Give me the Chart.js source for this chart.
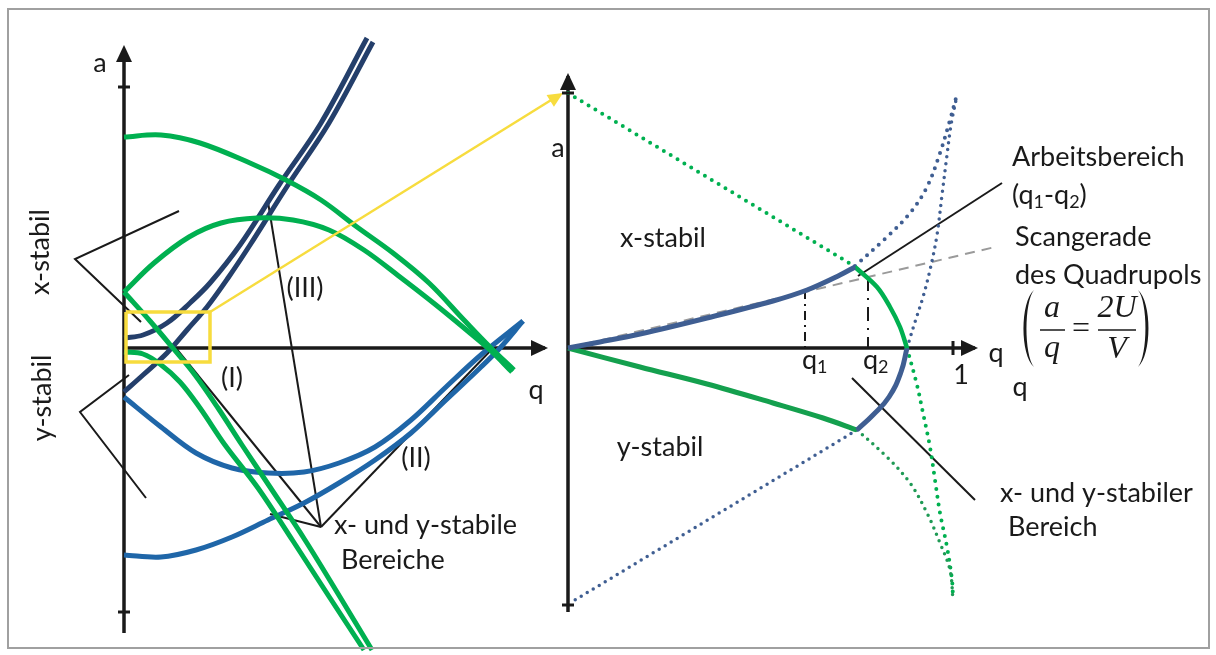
<!DOCTYPE html>
<html>
<head>
<meta charset="utf-8">
<script src="https://cdn.jsdelivr.net/npm/chart.js@4"></script>
<style>
  html, body { margin: 0; padding: 0; background: #fff; }
  canvas { display: block; }
</style>
</head>
<body>
<canvas id="stability" width="1216" height="655"></canvas>
<script>
// Mathieu stability diagram of the quadrupole, figure coordinates (x right, y down)

// --- left overview: stability boundaries in the a-q plane
const greenTop   = [[124,137],[161,135],[200,143],[250,163],[286,180],[321,200],[357,227],[393,253],[429,283],[464,320],[490,347],[514,370]];
const greenHump  = [[124,292],[154,263],[189,237],[221,223],[257,218],[293,220],[329,230],[364,250],[400,277],[436,305],[470,333],[490,350],[512,372]];
const greenFallA = [[124,292],[150,321],[172,347],[195,375],[218,408],[242,445],[270,487],[305,540],[340,597],[372,650]];
const greenFallB = [[124,352],[143,354],[160,364],[180,382],[200,408],[225,445],[258,488],[293,541],[330,598],[364,650]];
const navyRiseA  = [[124,338],[143,335],[167,323],[190,303],[210,283],[240,245],[279,185],[321,123],[367,38]];
const navyRiseB  = [[124,392],[143,375],[167,353],[187,330],[207,307],[228,278],[250,245],[288,185],[329,123],[373,42]];
const blueBowlA  = [[124,397],[161,427],[196,453],[232,468],[268,473],[304,472],[339,463],[375,447],[411,420],[446,387],[482,354],[523,321]];
const blueBowlB  = [[124,555],[161,557],[196,550],[232,537],[268,520],[304,503],[339,483],[375,460],[411,433],[446,400],[480,368],[500,348],[523,321]];

const leftAxisA = [[124,633],[124,50]];
const leftAxisQ = [[124,348],[545,348]];
const xBracket  = [[179,211],[75,259],[141,322]];
const yBracket  = [[129,375],[80,412],[146,498]];
const leadIII   = [[268,202],[321,527]];
const leadI     = [[175,347],[321,527]];
const leadII    = [[493,348],[321,527]];
const leadShort = [[270,514],[321,527]];
const zoomBox   = [[126,312],[210,312],[210,362],[126,362],[126,312]];
const zoomArrow = [[210,312],[556,97]];

// --- right detail: first stability region
const rightAxisA = [[568,612],[568,76]];
const rightAxisQ = [[568,348],[975,348]];
const greenDotTop   = [[568,93],[854,266]];
const navyEdgeTop   = [[568,348],[600,342],[640,334],[707,318],[773,301],[807,290],[840,275],[855,267]];
const greenEdgeTop  = [[855,267],[877,287],[890,307],[900,327],[907,348]];
const navyEdgeBot   = [[907,348],[901,372],[889,397],[873,415],[857,430]];
const greenEdgeBot  = [[568,348],[640,367],[707,384],[773,403],[823,418],[857,430]];
const navyDotBot    = [[857,430],[570,603]];
const greenDotCurve = [[857,430],[887,457],[910,483],[927,513],[940,543],[950,570],[953,600]];
const greenDotSteep = [[907,348],[917,385],[923,413],[930,447],[935,480],[940,513],[947,547],[952,580],[953,598]];
const navyDotCurve  = [[855,266],[887,237],[910,213],[927,187],[940,153],[950,120],[956,98]];
const navyDotSteep  = [[907,348],[915,322],[923,297],[930,270],[937,235],[942,195],[947,155],[951,125],[956,100]];
const scanLine      = [[568,348],[995,247]];
const q1Mark        = [[805,290],[805,348]];
const q2Mark        = [[868,277],[868,348]];
const leadWork      = [[858,276],[1002,183]];
const leadStable    = [[852,378],[975,500]];

const leftTexts  = ['a', 'q', 'x-stabil', 'y-stabil', '(I)', '(II)', '(III)', 'x- und y-stabile', 'Bereiche'];
const rightTexts = ['a', 'q', '1', 'q', 'x-stabil', 'y-stabil', 'Arbeitsbereich', 'Scangerade', 'des Quadrupols', 'x- und y-stabiler', 'Bereich'];

const INK = '#1a1a1a';
const GREEN = '#00b050';
const NAVY = '#243f6b';
const NAVY_R = '#3f5e92';
const BLUE = '#1f66a8';
const YELLOW = '#f7dc3e';
const FONT = '27px Lato';

function line(pts, color, width, extra) {
  return Object.assign({
    data: pts.map(p => ({ x: p[0], y: p[1] })),
    showLine: true,
    borderColor: color,
    borderWidth: width,
    pointRadius: 0,
    tension: 0,
    fill: false
  }, extra || {});
}
const smooth = { tension: 0.35 };
const dots = { borderDash: [0, 8], borderCapStyle: 'round' };
const fineDots = { borderDash: [0, 7], borderCapStyle: 'round' };

const datasets = [
  // right panel
  line(navyEdgeTop, NAVY_R, 5, smooth),
  line(greenEdgeTop, GREEN, 4.5, smooth),
  line(navyEdgeBot, NAVY_R, 5, { tension: 0.45 }),
  line(greenEdgeBot, '#14a04e', 5, smooth),
  line(greenDotTop, GREEN, 4, dots),
  line(navyDotBot, NAVY_R, 3.5, fineDots),
  line(greenDotCurve, '#1f9a55', 3.5, Object.assign({}, smooth, fineDots)),
  line(greenDotSteep, GREEN, 4, Object.assign({}, smooth, dots)),
  line(navyDotCurve, NAVY_R, 4, Object.assign({}, smooth, dots)),
  line(navyDotSteep, NAVY_R, 3.5, Object.assign({}, smooth, fineDots)),
  line(scanLine, '#9a9a9a', 2, { borderDash: [10, 7] }),
  line(q1Mark, INK, 2, { borderDash: [9, 5, 2, 5] }),
  line(q2Mark, INK, 2, { borderDash: [14, 7, 2, 7] }),
  line(leadWork, INK, 2),
  line(leadStable, INK, 2),
  line(rightAxisA, INK, 3.5),
  line(rightAxisQ, INK, 3.5),
  // left panel
  line(zoomArrow, YELLOW, 2.5),
  line(zoomBox, YELLOW, 3.5),
  line(greenTop, GREEN, 5, smooth),
  line(greenHump, GREEN, 5, smooth),
  line(greenFallA, GREEN, 5, smooth),
  line(greenFallB, GREEN, 5, smooth),
  line(navyRiseA, NAVY, 5, smooth),
  line(navyRiseB, NAVY, 5, smooth),
  line(blueBowlA, BLUE, 5, smooth),
  line(blueBowlB, BLUE, 5, smooth),
  line(xBracket, INK, 2),
  line(yBracket, INK, 2),
  line(leadIII, INK, 2),
  line(leadI, INK, 2),
  line(leadII, INK, 2),
  line(leadShort, INK, 2),
  line(leftAxisA, INK, 3.5),
  line(leftAxisQ, INK, 3.5)
];

const decorations = {
  id: 'decorations',
  beforeDraw(chart) {
    const c = chart.ctx;
    c.save();
    c.fillStyle = '#fff';
    c.fillRect(0, 0, chart.width, chart.height);
    c.restore();
  },
  afterDatasetsDraw(chart) {
    const c = chart.ctx;
    const sx = chart.scales.x, sy = chart.scales.y;
    const X = v => sx.getPixelForValue(v);
    const Y = v => sy.getPixelForValue(v);

    // frame
    c.save();
    c.strokeStyle = '#a0a0a0';
    c.lineWidth = 2;
    c.strokeRect(X(8), Y(9), X(1209) - X(8), Y(648) - Y(9));

    function head(tx, ty, fx, fy, len, half, color) {
      const ang = Math.atan2(Y(ty) - Y(fy), X(tx) - X(fx));
      const px = X(tx), py = Y(ty);
      c.fillStyle = color;
      c.beginPath();
      c.moveTo(px, py);
      c.lineTo(px - len * Math.cos(ang) + half * Math.sin(ang), py - len * Math.sin(ang) - half * Math.cos(ang));
      c.lineTo(px - len * Math.cos(ang) - half * Math.sin(ang), py - len * Math.sin(ang) + half * Math.cos(ang));
      c.closePath();
      c.fill();
    }
    head(124, 45, 124, 100, 17, 8, INK);
    head(548, 348, 500, 348, 17, 8, INK);
    head(568, 73, 568, 120, 17, 8, INK);
    head(978, 348, 930, 348, 17, 8, INK);
    head(563, 93, 210, 312, 15, 7, YELLOW);

    // axis ticks
    c.strokeStyle = INK;
    c.lineWidth = 3;
    function tick(x, y, horiz) {
      c.beginPath();
      if (horiz) { c.moveTo(X(x - 6), Y(y)); c.lineTo(X(x + 6), Y(y)); }
      else { c.moveTo(X(x), Y(y - 7)); c.lineTo(X(x), Y(y + 7)); }
      c.stroke();
    }
    tick(124, 87, true);
    tick(124, 612, true);
    tick(568, 93, true);
    tick(568, 605, true);
    tick(953, 348, false);

    // texts
    c.fillStyle = INK;
    c.font = FONT;
    c.textBaseline = 'middle';
    function text(s, x, y, align) {
      c.textAlign = align || 'center';
      c.fillText(s, X(x), Y(y));
    }
    function rich(parts, x, y) {
      let px = X(x);
      c.textAlign = 'left';
      parts.forEach(p => {
        c.font = p.sub ? '18px Lato' : FONT;
        c.fillText(p.t, px, Y(y) + (p.sub ? 7 : 0));
        px += c.measureText(p.t).width;
      });
      c.font = FONT;
    }
    function vertical(s, x, y) {
      c.save();
      c.translate(X(x), Y(y));
      c.rotate(-Math.PI / 2);
      c.textAlign = 'center';
      c.fillText(s, 0, 0);
      c.restore();
    }

    text(leftTexts[0], 100, 63);
    text(leftTexts[1], 536, 390);
    vertical(leftTexts[2], 40, 252);
    vertical(leftTexts[3], 42, 398);
    text(leftTexts[4], 232, 378);
    text(leftTexts[5], 416, 458);
    text(leftTexts[6], 305, 288);
    text(leftTexts[7], 334, 525, 'left');
    text(leftTexts[8], 341, 560, 'left');

    text(rightTexts[0], 558, 148);
    text(rightTexts[1], 996, 353);
    text(rightTexts[2], 961, 375);
    text(rightTexts[3], 1020, 387);
    text(rightTexts[4], 663, 238);
    text(rightTexts[5], 660, 447);
    rich([{ t: 'q' }, { t: '1', sub: true }], 802, 360);
    rich([{ t: 'q' }, { t: '2', sub: true }], 863, 360);
    text(rightTexts[6], 1012, 157, 'left');
    rich([{ t: '(q' }, { t: '1', sub: true }, { t: '-q' }, { t: '2', sub: true }, { t: ')' }], 1012, 195);
    text(rightTexts[7], 1015, 237, 'left');
    text(rightTexts[8], 1015, 275, 'left');
    text(rightTexts[9], 1000, 493, 'left');
    text(rightTexts[10], 1008, 527, 'left');

    // scan line relation a/q = 2U/V
    c.font = 'italic 32px "Liberation Serif"';
    text('a', 1052, 309);
    text('q', 1052, 349);
    text('2U', 1117, 309);
    text('V', 1117, 350);
    c.font = '32px "Liberation Serif"';
    text('=', 1081, 330);
    c.lineWidth = 1.6;
    c.beginPath();
    c.moveTo(X(1040), Y(330)); c.lineTo(X(1065), Y(330));
    c.moveTo(X(1098), Y(330)); c.lineTo(X(1136), Y(330));
    c.stroke();
    function paren(x, y0, y1, dir) {
      const bulge = 14 * dir, thick = 4 * dir;
      c.beginPath();
      c.moveTo(X(x), Y(y0));
      c.bezierCurveTo(X(x) - bulge, Y(y0) + 12, X(x) - bulge, Y(y1) - 12, X(x), Y(y1));
      c.bezierCurveTo(X(x) - bulge + thick, Y(y1) - 12, X(x) - bulge + thick, Y(y0) + 12, X(x), Y(y0));
      c.fill();
    }
    paren(1034, 290, 367, 1);
    paren(1138, 290, 367, -1);
    c.restore();
  }
};

new Chart(document.getElementById('stability'), {
  type: 'scatter',
  data: { datasets: datasets },
  options: {
    responsive: false,
    animation: false,
    layout: { padding: 0 },
    scales: {
      x: { type: 'linear', min: 0, max: 1216, display: false },
      y: { type: 'linear', min: 0, max: 655, reverse: true, display: false }
    },
    plugins: { legend: { display: false }, tooltip: { enabled: false } }
  },
  plugins: [decorations]
});
</script>
</body>
</html>
